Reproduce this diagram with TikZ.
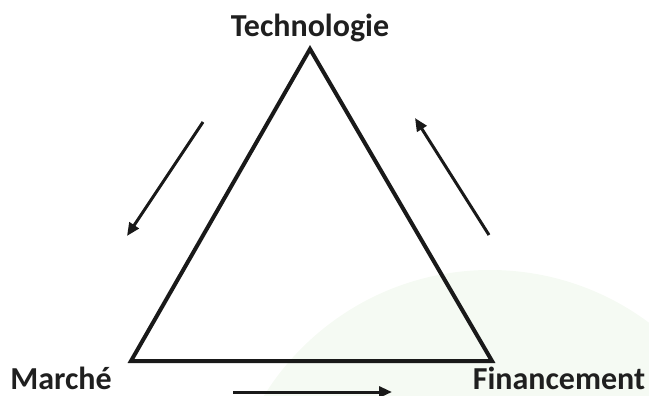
\documentclass[tikz,border=0pt]{standalone}
\usepackage{fontspec}
\setmainfont{Carlito}
\usetikzlibrary{arrows.meta}
\definecolor{bgcircle}{RGB}{245,250,243}
\tikzset{
  lbl/.style={font=\fontsize{32}{36}\selectfont\bfseries, text=black!88, anchor=base, inner sep=0pt},
  lowlbl/.style={lbl, text depth=0pt},
  tri/.style={line width=4pt, line join=miter, draw=black!90},
  flow/.style={line width=3pt, draw=black!90, -{Triangle[length=13pt,width=11pt]}}
}
\begin{document}
\begin{tikzpicture}[x=1pt,y=-1pt]
\useasboundingbox (0,0) rectangle (649,396);
\begin{scope}
\clip (0,0) rectangle (649,396);
\fill[bgcircle] (490,536) circle (266);
\end{scope}
\coordinate (T) at (310,49);
\coordinate (L) at (131,361);
\coordinate (R) at (492,361);
\draw[tri] (T) -- (L) -- (R) -- cycle;
\node[lbl] (tech) at (310,37) {Technologie};
\node[lowlbl] (mar) at (61,389) {Marché};
\node[lowlbl] (fin) at (559,389) {Financement};
\coordinate (a1s) at (203,122);
\coordinate (a1e) at (127,236);
\coordinate (a2s) at (489,235);
\coordinate (a2e) at (415,118);
\coordinate (a3s) at (233,392);
\coordinate (a3e) at (392,392);
\draw[flow] (a1s) -- (a1e);
\draw[flow] (a2s) -- (a2e);
\draw[flow] (a3s) -- (a3e);
\end{tikzpicture}
\end{document}
